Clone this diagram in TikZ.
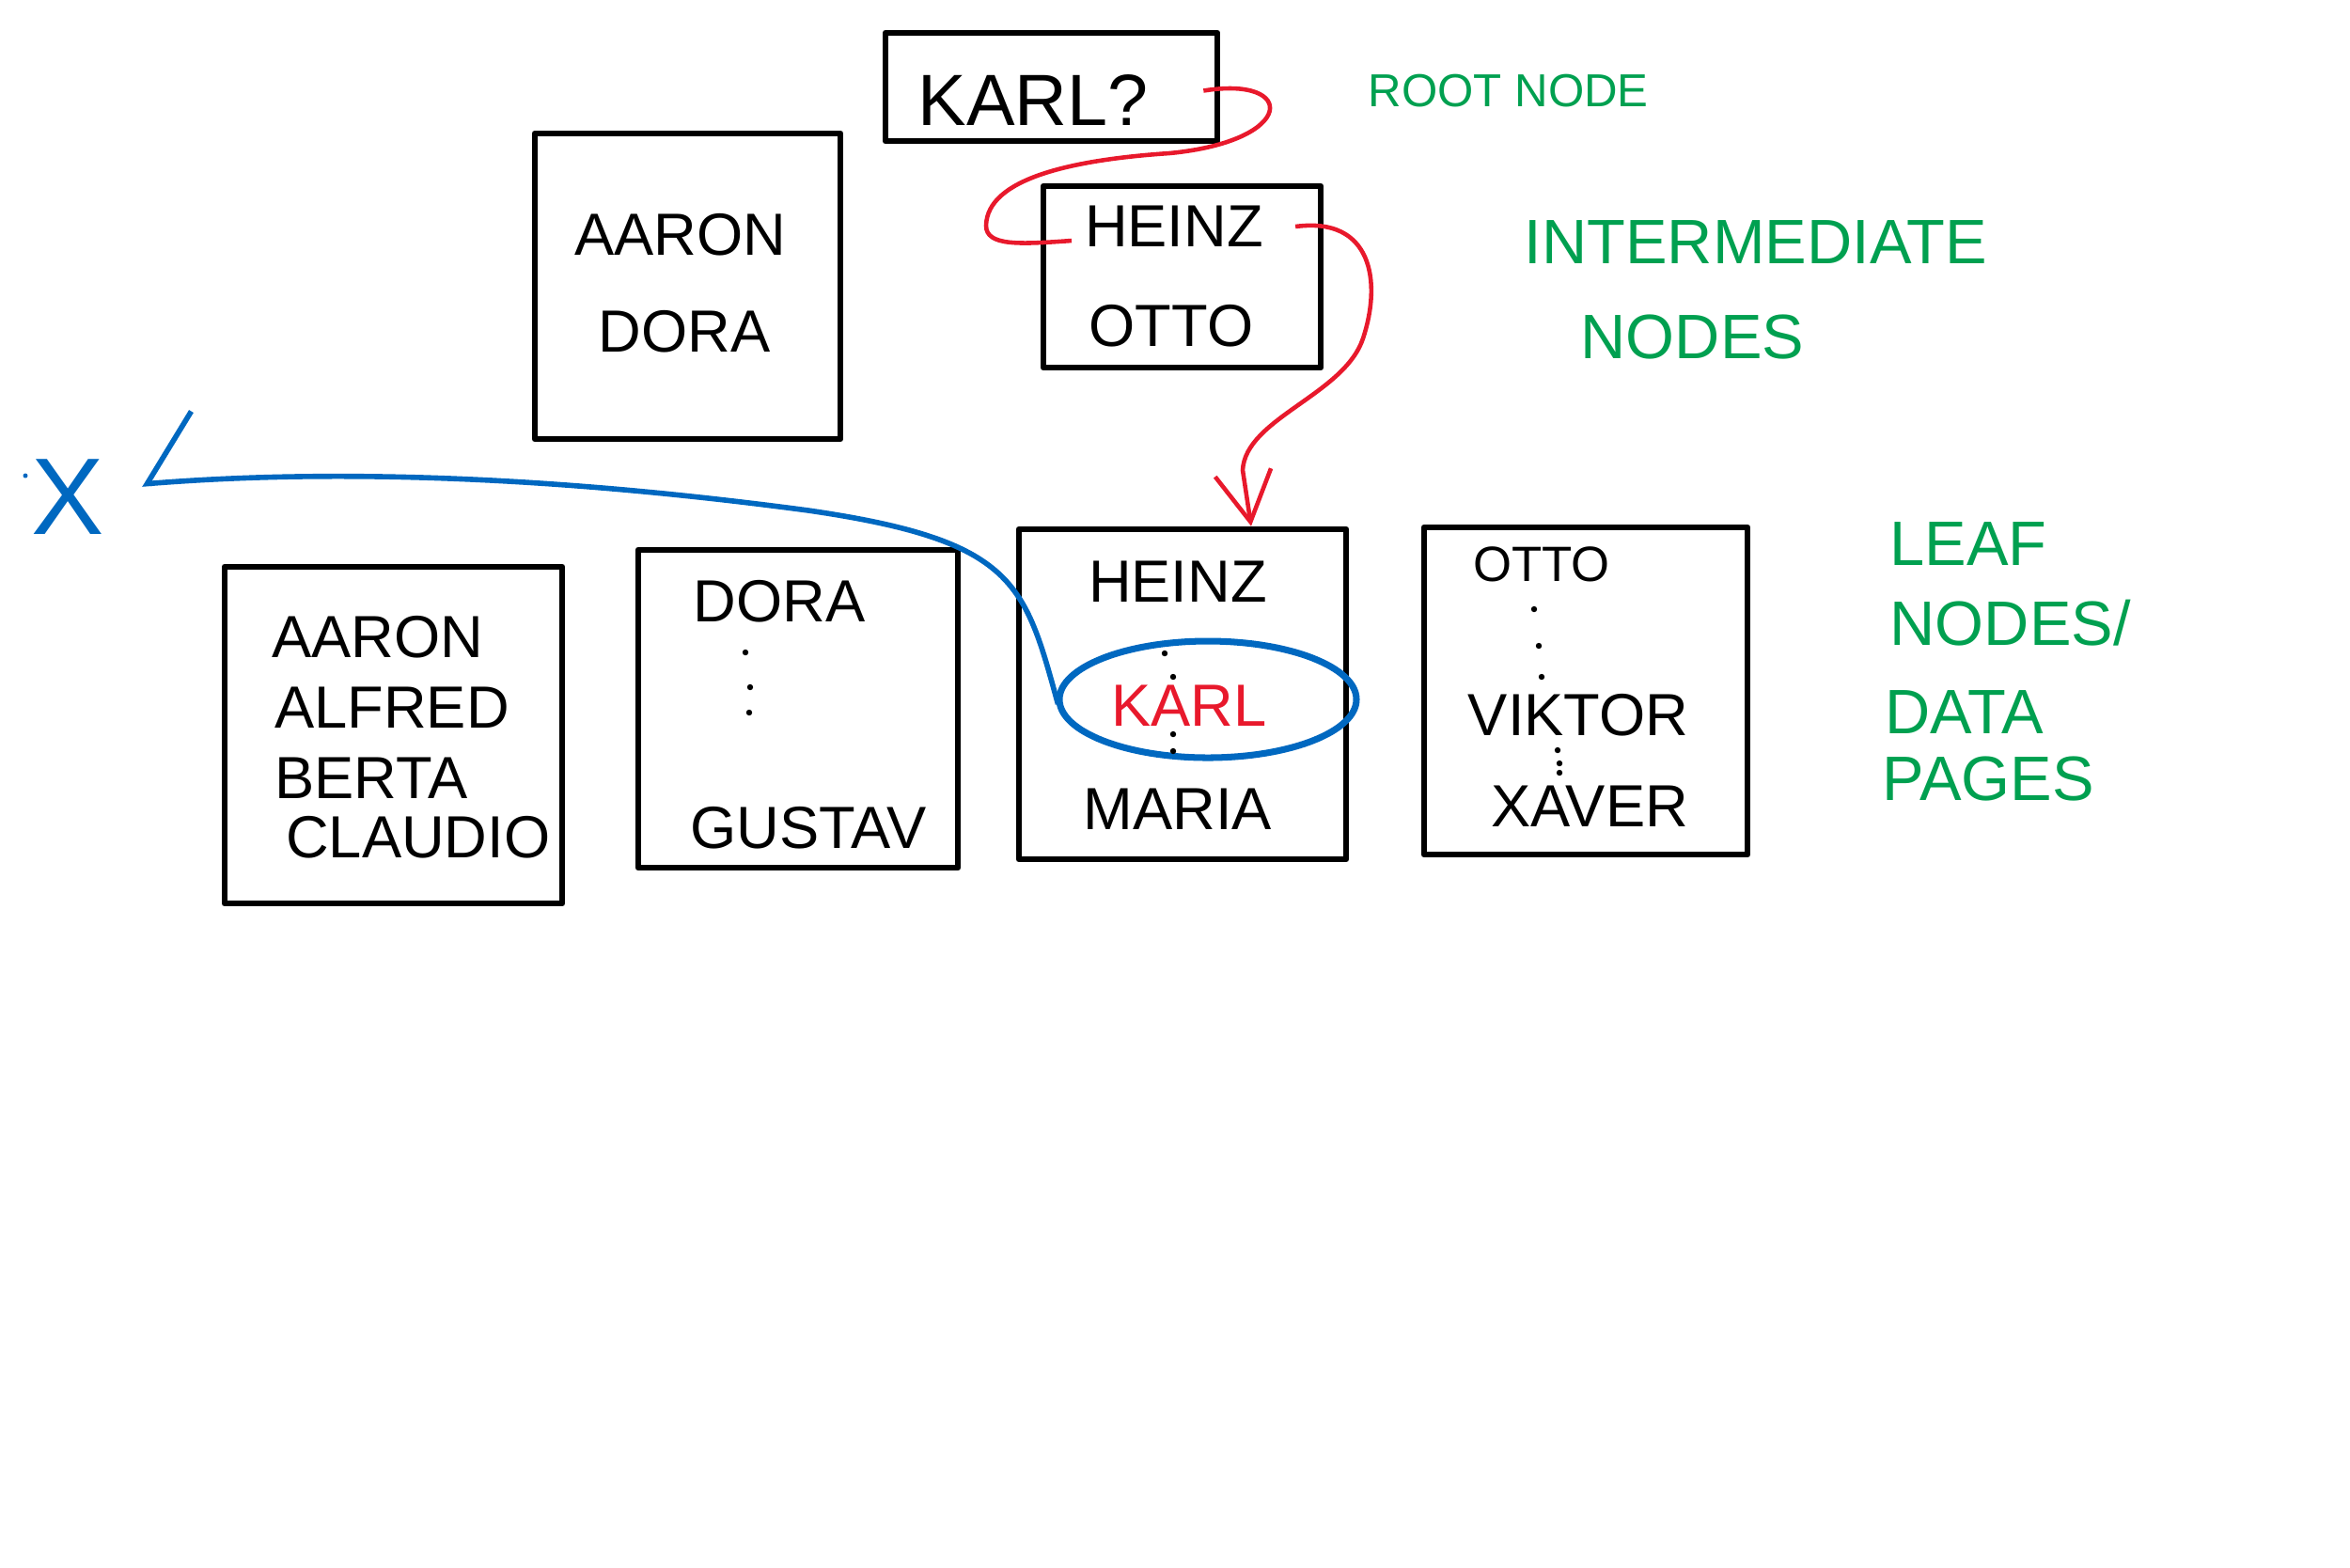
\documentclass[tikz,border=0pt]{standalone}
\usepackage{fontspec}
\setmainfont{Liberation Sans}
\usepackage{xcolor}
\usepackage{tikz}
\usetikzlibrary{arrows.meta,calc,shapes.geometric}
\definecolor{inkred}{RGB}{232,25,44}
\definecolor{inkblue}{RGB}{0,104,192}
\definecolor{inkgreen}{RGB}{0,160,80}
\tikzset{pagebox/.style={draw=black, line width=1.9pt, line join=round, inner sep=0pt},
entry/.style={font=\fontsize{18}{20}\selectfont, inner sep=1pt},
remark/.style={font=\fontsize{19}{21}\selectfont, text=inkgreen, anchor=west, inner sep=0pt}}

\begin{document}
\begin{tikzpicture}
    %Values
    \def\dotr{0.032}
    \useasboundingbox (0,0) rectangle (25,-16.67);

    % Root and intermediate nodes
    \node[pagebox, minimum width=3.53cm, minimum height=1.15cm] (root) at (11.185,-0.925) {};
    \node[entry, font=\fontsize{22}{24}\selectfont] (kq) at (10.99,-1.06) {KARL?};

    \node[pagebox, minimum width=3.25cm, minimum height=3.25cm] (inta) at (7.315,-3.045) {};
    \node[entry] (aarona) at (7.24,-2.50) {AARON};
    \node[entry] (doraa) at (7.28,-3.53) {DORA};

    \node[pagebox, minimum width=2.95cm, minimum height=1.93cm] (intb) at (12.575,-2.945) {};
    \node[entry] (heinzb) at (12.49,-2.41) {HEINZ};
    \node[entry] (ottob) at (12.46,-3.47) {OTTO};

    % Leaf nodes
    \node[pagebox, minimum width=3.59cm, minimum height=3.58cm] (leafa) at (4.185,-7.82) {};
    \node[entry, anchor=west] (aaronl) at (2.85,-6.78) {AARON};
    \node[entry, anchor=west] (alfred) at (2.88,-7.53) {ALFRED};
    \node[entry, anchor=west] (berta) at (2.88,-8.28) {BERTA};
    \node[entry, anchor=west] (claudio) at (3.00,-8.91) {CLAUDIO};

    \node[pagebox, minimum width=3.40cm, minimum height=3.38cm] (leafb) at (8.49,-7.54) {};
    \node[entry] (doral) at (8.29,-6.40) {DORA};
    \node[entry] (gustav) at (8.60,-8.81) {GUSTAV};
    \fill (7.93,-6.94) circle [radius=\dotr];
    \fill (7.98,-7.31) circle [radius=\dotr];
    \fill (7.97,-7.58) circle [radius=\dotr];

    \node[pagebox, minimum width=3.48cm, minimum height=3.51cm] (leafc) at (12.58,-7.385) {};
    \node[entry] (heinzl) at (12.53,-6.19) {HEINZ};
    \node[ellipse, draw=inkblue, line width=2pt, minimum width=3.16cm, minimum height=1.24cm] (kring) at (12.85,-7.44) {};
    \node[entry, text=inkred] (karl) at (12.65,-7.51) {KARL};
    \node[entry] (maria) at (12.53,-8.61) {MARIA};
    \fill (12.39,-6.95) circle [radius=\dotr];
    \fill (12.48,-7.20) circle [radius=\dotr];
    \fill (12.48,-7.81) circle [radius=\dotr];
    \fill (12.48,-7.99) circle [radius=\dotr];

    \node[pagebox, minimum width=3.44cm, minimum height=3.48cm] (leafd) at (16.87,-7.35) {};
    \node[entry, font=\fontsize{15}{17}\selectfont] (ottol) at (16.40,-6.00) {OTTO};
    \node[entry] (viktor) at (16.79,-7.61) {VIKTOR};
    \node[entry] (xaver) at (16.91,-8.58) {XAVER};
    \fill (16.32,-6.48) circle [radius=\dotr];
    \fill (16.37,-6.87) circle [radius=\dotr];
    \fill (16.40,-7.20) circle [radius=\dotr];
    \fill (16.57,-7.98) circle [radius=\dotr];
    \fill (16.59,-8.12) circle [radius=\dotr];
    \fill (16.59,-8.22) circle [radius=\dotr];

    % Labels
    \node[remark, font=\fontsize{14}{16}\selectfont] (rootlbl) at (14.55,-0.97) {ROOT NODE};
    \node[remark] (interlbl) at (16.21,-2.58) {INTERMEDIATE};
    \node[remark] (nodeslbl) at (16.81,-3.58) {NODES};
    \node[remark] (leaflbl) at (20.10,-5.79) {LEAF};
    \node[remark] (nodes2lbl) at (20.10,-6.63) {NODES/};
    \node[remark] (datalbl) at (20.05,-7.57) {DATA};
    \node[remark] (pageslbl) at (20.02,-8.28) {PAGES};

    \node[text=inkblue, font=\fontsize{33}{33}\selectfont, inner sep=0pt] (nilx) at (0.72,-5.29) {X};
    \fill[inkblue] (0.27,-5.06) circle [radius=0.025];
    \coordinate (nilend) at (1.51,-5.15);

    % Search path
    \draw[inkred, line width=1.3pt] ($(root.east)+(-0.18,-0.04)$) .. controls (13.8,-0.8) and (13.8,-1.5) .. (12.44,-1.63)
        .. controls (11.4,-1.7) and (10.5,-1.9) .. (10.49,-2.40)
        .. controls (10.49,-2.62) and (10.85,-2.6) .. ($(heinzb.west)+(-0.1,-0.15)$);
    \draw[inkred, line width=1.3pt, -{Straight Barb[length=5.3mm, width=6mm]}] ($(heinzb.east)+(0.3,0)$) .. controls (14.6,-2.3) and (14.7,-3.0) .. (14.5,-3.6)
        .. controls (14.3,-4.2) and (13.25,-4.45) .. (13.22,-5.0) -- ($(leafc.north)+(0.73,0)$);

    \draw[inkblue, line width=1.6pt, -{Straight Barb[harpoon, swap, length=5.3mm, width=14.6mm]}] ($(kring.west)+(0.02,-0.05)$) .. controls (10.9,-6.2) and (10.8,-5.75) .. (8.6,-5.43)
        .. controls (6.5,-5.15) and (4.0,-4.95) .. (nilend);
\end{tikzpicture}
\end{document}
